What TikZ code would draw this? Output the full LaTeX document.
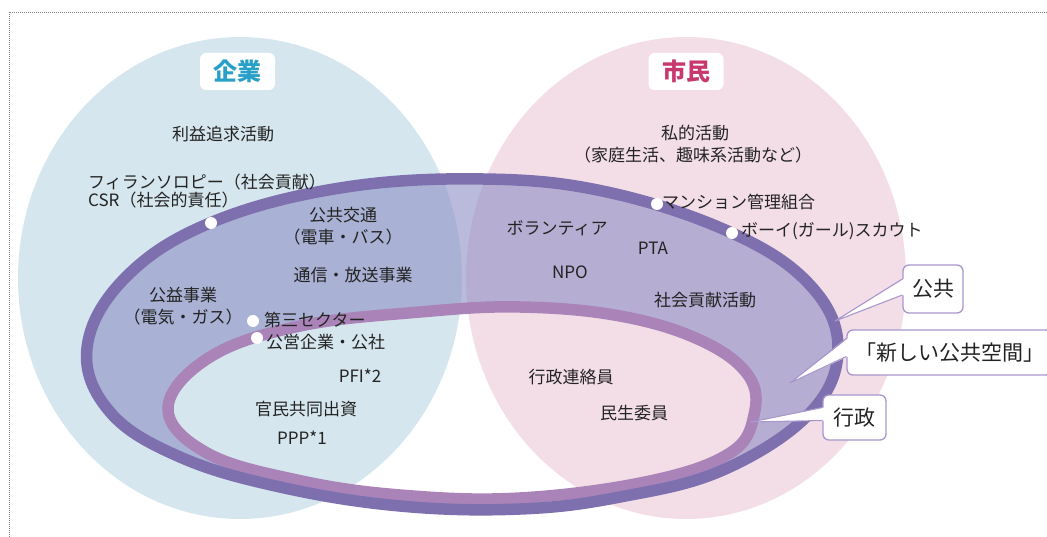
\documentclass[tikz,border=0pt]{standalone}
\usepackage{fontspec}
\setmainfont{Noto Sans CJK JP}
\usetikzlibrary{calc}
\definecolor{kblue}{RGB}{214,230,238}
\definecolor{kpink}{RGB}{243,222,231}
\definecolor{ringfill}{RGB}{140,142,196}
\definecolor{outerline}{RGB}{126,112,174}
\definecolor{innerline}{RGB}{170,132,185}
\definecolor{kteal}{RGB}{40,160,200}
\definecolor{kred}{RGB}{200,55,110}
\definecolor{cbord}{RGB}{168,150,205}
\definecolor{txt}{RGB}{35,35,35}
\def\OuterLoop{plot[smooth cycle, tension=0.65] coordinates {(87,348) (125,278) (210,223) (340,188) (483,179) (607,192) (732,233) (810,285) (838,348) (810,413) (723,470) (620,497) (520,509) (400,506) (280,487) (180,457) (110,412)}}
\def\InnerLoop{plot[smooth cycle, tension=0.65] coordinates {(168,408) (210,357) (300,326) (420,312) (520,307) (620,316) (700,340) (748,375) (754,415) (730,453) (650,481) (520,498) (400,495) (297,480) (207,453)}}
\begin{document}
\begin{tikzpicture}[x=1pt,y=-1pt,
  lbl/.style={font=\fontsize{17}{19}\selectfont, text=txt, inner sep=0pt, align=center},
  dot/.style={circle, fill=white, inner sep=0pt, minimum size=12pt},
  titlebox/.style={fill=white, rounded corners=6pt, minimum width=75pt, minimum height=37pt, inner sep=0pt, font=\fontsize{24}{26}\selectfont\bfseries},
  callout/.style={draw=cbord, line width=1.3pt, fill=white, rounded corners=6pt, inner xsep=8pt, inner ysep=0pt, minimum height=45pt, font=\fontsize{21}{23}\selectfont, text=txt},
  wedge/.style={fill=white},
  pointer/.style={draw=cbord, line width=1.1pt, line join=round}]
\useasboundingbox (0,0) rectangle (1047,537);
% frame
\draw[gray, line width=0.9pt, dash pattern=on 1pt off 1pt] (1047,12) -- (9,12) -- (9,537);
% two fields
\fill[kblue] (240,278) ellipse [x radius=222pt, y radius=241pt];
\fill[kpink] (686,278) ellipse [x radius=220pt, y radius=241pt];
% public ring
\fill[ringfill, fill opacity=0.6, even odd rule] \OuterLoop \InnerLoop;
\draw[innerline, line width=11.5pt] \InnerLoop;
\draw[outerline, line width=11.5pt] \OuterLoop;
% titles
\node[titlebox, text=kteal] (kigyo) at (237.5,71.5) {企業};
\node[titlebox, text=kred] (shimin) at (686,71.5) {市民};
% left texts
\node[lbl] (t1) at (223,134) {利益追求活動};
\node[lbl, anchor=west] (t2) at (88,182) {フィランソロピー（社会貢献）};
\node[lbl, anchor=west] (t3) at (88,200) {CSR（社会的責任）};
\node[lbl] (t4) at (343,215) {公共交通};
\node[lbl] (t5) at (343,237) {（電車・バス）};
\node[lbl] (t6) at (353,275) {通信・放送事業};
\node[lbl] (t7) at (183,295) {公益事業};
\node[lbl] (t8) at (183,317) {（電気・ガス）};
\node[lbl, anchor=west] (t9) at (264,320) {第三セクター};
\node[lbl, anchor=west] (t10) at (266,342) {公営企業・公社};
\node[lbl] (t11) at (360,376) {PFI*2};
\node[lbl] (t12) at (306,409) {官民共同出資};
\node[lbl] (t13) at (302,438) {PPP*1};
% right texts
\node[lbl] (t14) at (695,133) {私的活動};
\node[lbl] (t15) at (693,155) {（家庭生活、趣味系活動など）};
\node[lbl, anchor=west] (t16) at (662,202) {マンション管理組合};
\node[lbl, anchor=west] (t17) at (741,231) {ボーイ(ガール)スカウト};
\node[lbl] (t18) at (557,228) {ボランティア};
\node[lbl] (t19) at (653,248) {PTA};
\node[lbl] (t20) at (570,272) {NPO};
\node[lbl] (t21) at (705,300) {社会貢献活動};
\node[lbl] (t22) at (571,377) {行政連絡員};
\node[lbl] (t23) at (634,413) {民生委員};
% dots
\node[dot] (d1) at (211,223) {};
\node[dot] (d2) at (657,204) {};
\node[dot] (d3) at (732,233) {};
\node[dot] (d4) at (253,321) {};
\node[dot] (d5) at (257,338) {};
% callouts
\coordinate (tipK) at (835,321);
\coordinate (tipS) at (790,383);
\coordinate (tipG) at (751,422);
\node[callout, minimum width=60pt, minimum height=48pt] (kokyo) at (933,289) {公共};
\node[callout, minimum width=187pt] (shin) at (949.5,352.5) {「新しい公共空間」};
\node[callout, minimum width=63pt] (gyosei) at (854.5,417.5) {行政};
\fill[wedge] ($(kokyo.west)+(1.5,-10)$) -- (tipK) -- ($(kokyo.west)+(1.5,6)$) -- cycle;
\draw[pointer] ($(kokyo.west)+(0,-10)$) -- (tipK) -- ($(kokyo.west)+(0,6)$);
\fill[wedge] ($(shin.west)+(1.5,-14)$) -- (tipS) -- ($(shin.west)+(1.5,4)$) -- cycle;
\draw[pointer] ($(shin.west)+(0,-14)$) -- (tipS) -- ($(shin.west)+(0,4)$);
\fill[wedge] ($(gyosei.west)+(1.5,-10)$) -- (tipG) -- ($(gyosei.west)+(1.5,3)$) -- cycle;
\draw[pointer] ($(gyosei.west)+(0,-10)$) -- (tipG) -- ($(gyosei.west)+(0,3)$);
\end{tikzpicture}
\end{document}
